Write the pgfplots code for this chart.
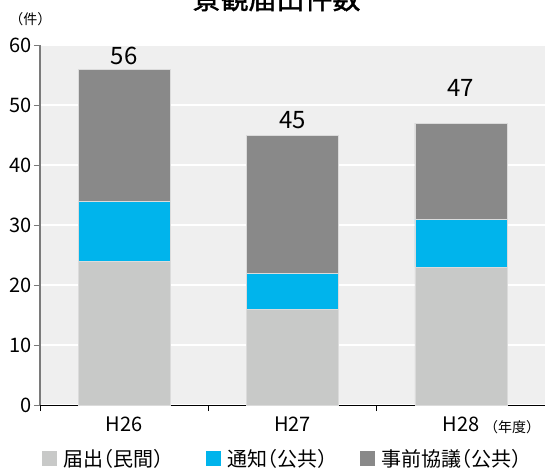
\documentclass[border=0pt]{standalone}
\usepackage{pgfplots}
\pgfplotsset{compat=1.18}
\usepackage{pgfplotstable}
\usepackage{fontspec}
\setmainfont[RawFeature=+halt]{Noto Sans CJK JP}
\newfontfamily\titlefont[FakeBold=1.2]{Noto Sans CJK JP}

\definecolor{bgc}{HTML}{EFEFEF}
\definecolor{minkan}{HTML}{C8C9C8}
\definecolor{tsuchi}{HTML}{00B4EC}
\definecolor{kyogi}{HTML}{898989}
\definecolor{axisgray}{HTML}{7A7A7A}

% 景観届出件数（年度別）
\pgfplotstableread{
x minkan tsuchi kyogi total
0 24 10 22 56
1 16  6 23 45
2 23  8 16 47
}\datatable

\begin{document}
\begin{tikzpicture}
\useasboundingbox (-40pt,-64pt) rectangle (505pt,405pt);
\clip (-40pt,-64pt) rectangle (505pt,405pt);

\node[anchor=base, font=\fontsize{28}{28}\titlefont] at (236.5pt,396pt) {景観届出件数};
\node[font=\fontsize{14}{14}\selectfont] at (-9.5pt,385.5pt) {（件）};
\node[font=\fontsize{14}{14}\selectfont] at (472pt,-22pt) {（年度）};

\begin{axis}[
  at={(0pt,0pt)}, anchor=south west,
  scale only axis, width=505pt, height=360pt,
  xmin=-0.5, xmax=2.5, ymin=0, ymax=60,
  axis lines*=left,
  axis background/.style={fill=bgc},
  x axis line style={black, line width=0.9pt},
  y axis line style={axisgray, line width=1.3pt},
  ybar stacked, bar width=92pt,
  ymajorgrids, grid style={white, line width=1.5pt},
  ytick={0,10,...,60},
  xtick={-0.5,0.5,1.5,2.5}, xticklabels={},
  extra x ticks={0,1,2}, extra x tick labels={H26,H27,H28},
  extra x tick style={major tick length=0pt, grid=none,
    xticklabel style={yshift=-8pt}},
  tick align=outside, major tick length=6pt,
  xtick style={black, line width=0.9pt},
  ytick style={axisgray, line width=0.9pt},
  /pgf/number format/assume math mode=true,
  tick label style={font=\fontsize{20}{20}\selectfont},
  yticklabel style={inner xsep=2pt},
  legend columns=3,
  legend style={draw=none, fill=none, inner sep=0pt, outer sep=0pt,
    at={(rel axis cs:0.004,-0.149)}, anchor=west,
    font=\fontsize{20}{20}\selectfont,
    nodes={inner sep=0pt, anchor=west},
    /tikz/every odd column/.append style={column sep=6pt},
    /tikz/every even column/.append style={column sep=33pt}},
  sq legend/.style={legend image code/.code={\path[##1, draw=none] (0pt,-7.5pt) rectangle (15pt,7.5pt);}},
]
\addplot[fill=minkan, draw=white!86!black, line width=0.5pt, sq legend] table[x=x, y=minkan] {\datatable};
\addplot[fill=tsuchi, draw=white!86!black, line width=0.5pt, sq legend] table[x=x, y=tsuchi] {\datatable};
\addplot[fill=kyogi, draw=white!86!black, line width=0.5pt, sq legend] table[x=x, y=kyogi] {\datatable};
\legend{届出（民間）\hspace*{10pt}, 通知（公共）, 事前協議（公共）}

% totals above each bar
\node[anchor=base, font=\fontsize{24}{24}\selectfont] at (axis cs:0,56) [yshift=4.5pt] {56};
\node[anchor=base, font=\fontsize{24}{24}\selectfont] at (axis cs:1,45) [yshift=6.5pt] {45};
\node[anchor=base, font=\fontsize{24}{24}\selectfont] at (axis cs:2,47) [yshift=26.5pt] {47};
\end{axis}
\end{tikzpicture}
\end{document}
